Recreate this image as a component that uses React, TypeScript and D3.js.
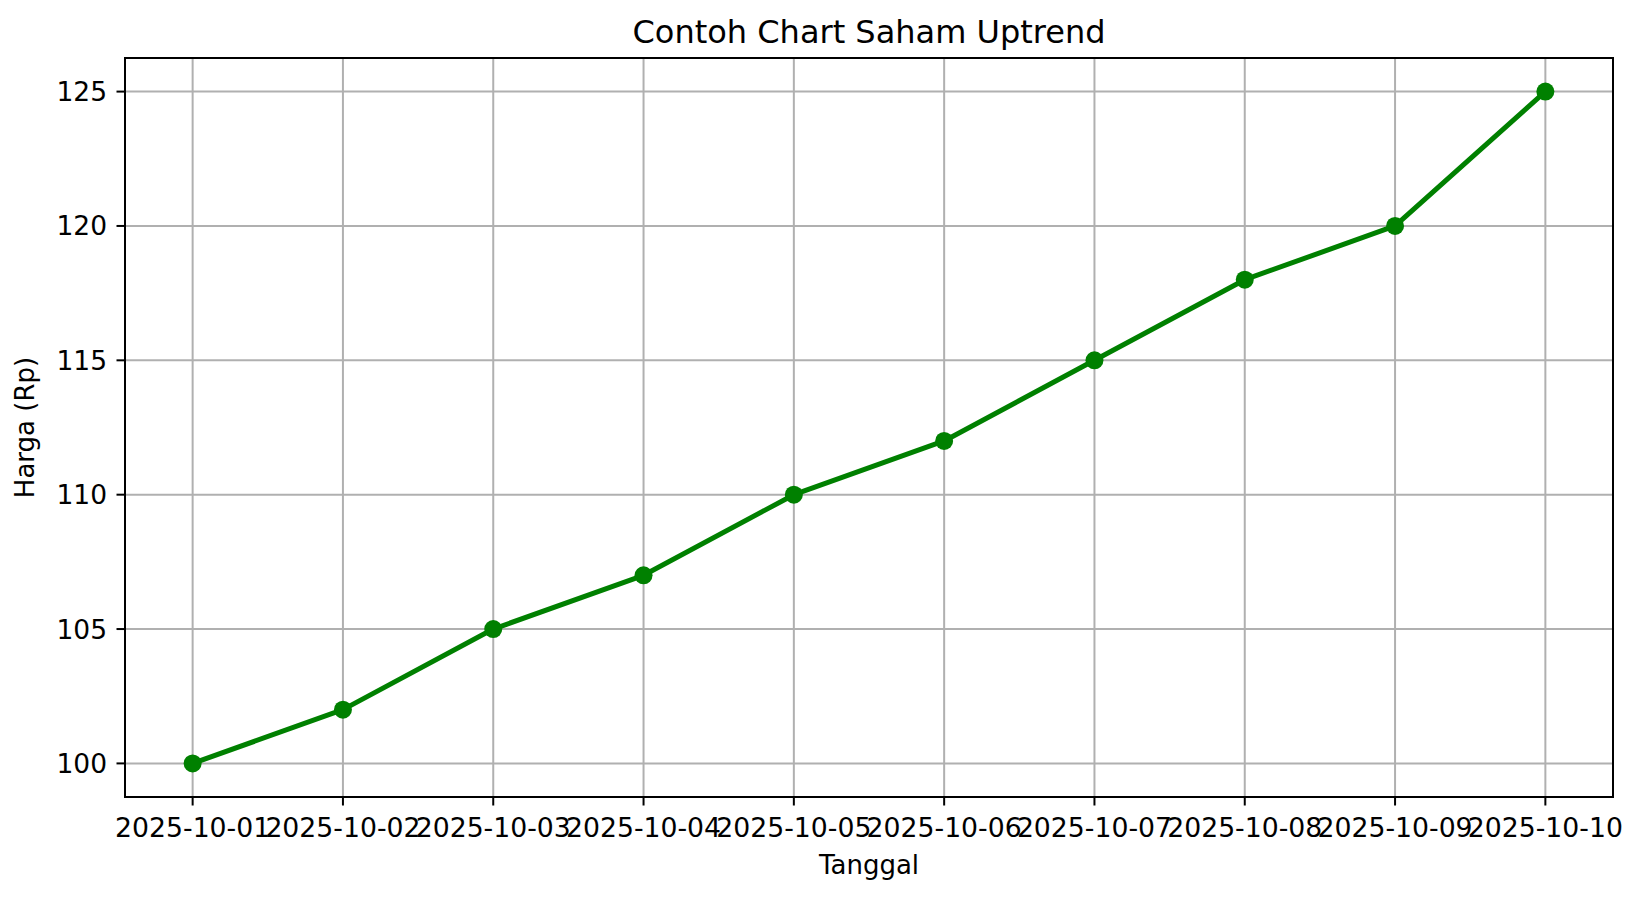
import React from "react";
import * as d3 from "d3";

const dates = ["2025-10-01","2025-10-02","2025-10-03","2025-10-04","2025-10-05","2025-10-06","2025-10-07","2025-10-08","2025-10-09","2025-10-10"];
const prices = [100, 102, 105, 107, 110, 112, 115, 118, 120, 125];
const yTicks = [100, 105, 110, 115, 120, 125];

const W = 1642, H = 898;
const M = { left: 125, top: 58, right: 1613, bottom: 797 };
const FONT = "DejaVu Sans, sans-serif";

export default function App() {
  const x = d3.scaleLinear().domain([-0.45, dates.length - 1 + 0.45]).range([M.left, M.right]);
  const ymin = 100, ymax = 125, pad = (ymax - ymin) * 0.05;
  const y = d3.scaleLinear().domain([ymin - pad, ymax + pad]).range([M.bottom, M.top]);
  const line = d3.line<number>().x((_, i) => x(i)).y((d) => y(d));
  const grid = "#b0b0b0";
  return (
    <svg width={W} height={H} style={{ position: "absolute", left: 0, top: 0, background: "#fff" }} fontFamily={FONT}>
      <rect x={0} y={0} width={W} height={H} fill="#fff" />
      {dates.map((d, i) => (
        <line key={"gx" + i} x1={x(i)} x2={x(i)} y1={M.top} y2={M.bottom} stroke={grid} strokeWidth={2} />
      ))}
      {yTicks.map((t) => (
        <line key={"gy" + t} x1={M.left} x2={M.right} y1={y(t)} y2={y(t)} stroke={grid} strokeWidth={2} />
      ))}
      <path d={line(prices) || ""} fill="none" stroke="#008000" strokeWidth={5} strokeLinejoin="round" strokeLinecap="square" />
      {prices.map((p, i) => (
        <circle key={"m" + i} cx={x(i)} cy={y(p)} r={9} fill="#008000" />
      ))}
      <rect x={M.left} y={M.top} width={M.right - M.left} height={M.bottom - M.top} fill="none" stroke="#000" strokeWidth={2} />
      {dates.map((d, i) => (
        <g key={"xt" + i}>
          <line x1={x(i)} x2={x(i)} y1={M.bottom} y2={M.bottom + 8.5} stroke="#000" strokeWidth={2} />
          <text x={x(i)} y={M.bottom + 40} textAnchor="middle" fontSize={26.7} fill="#000">{d}</text>
        </g>
      ))}
      {yTicks.map((t) => (
        <g key={"yt" + t}>
          <line x1={M.left - 8.5} x2={M.left} y1={y(t)} y2={y(t)} stroke="#000" strokeWidth={2} />
          <text x={M.left - 18} y={y(t)} dy="0.36em" textAnchor="end" fontSize={26.5} fill="#000">{t}</text>
        </g>
      ))}
      <text x={(M.left + M.right) / 2} y={43} textAnchor="middle" fontSize={32} fill="#000">Contoh Chart Saham Uptrend</text>
      <text x={(M.left + M.right) / 2} y={874} textAnchor="middle" fontSize={26} fill="#000">Tanggal</text>
      <text transform={`translate(34, ${(M.top + M.bottom) / 2}) rotate(-90)`} textAnchor="middle" fontSize={26} fill="#000">Harga (Rp)</text>
    </svg>
  );
}
